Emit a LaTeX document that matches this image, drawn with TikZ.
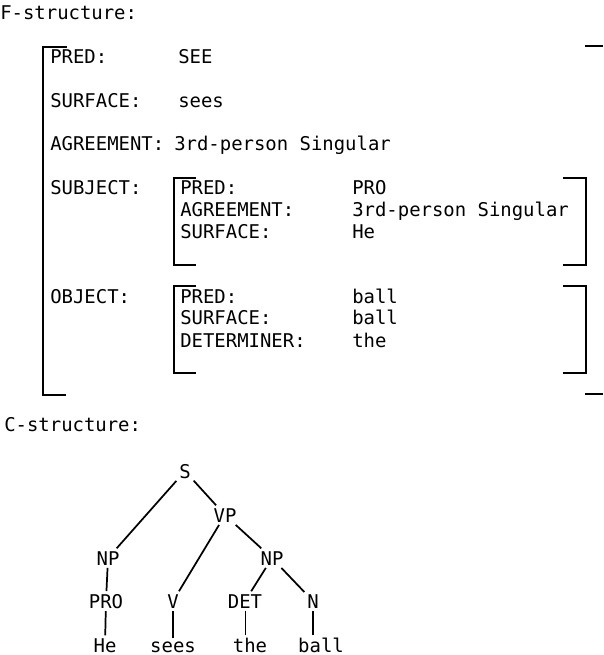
\documentclass[tikz,border=0pt]{standalone}
\usepackage{fontspec}
\setmonofont{DejaVu Sans Mono}
\usetikzlibrary{positioning}
\newcommand{\Fsfont}{\ttfamily\fontsize{14.2pt}{17pt}\selectfont}

\begin{document}
\begin{tikzpicture}[x=0.75pt, y=-0.75pt, font=\Fsfont,
    lab/.style={anchor=base west, inner sep=0pt},
    cat/.style={anchor=base, inner sep=2pt},
    brk/.style={line width=1.4pt},
    edge/.style={line width=1.3pt}]
\useasboundingbox (0,0) rectangle (603,655);

            \draw(0,20) node[lab] (ftitle) {F-structure:};

            % outer f-structure
            \draw(50,64) node[lab] (pred) {PRED:};
            \draw(178,64) node[lab] (predv) {SEE};
            \draw(50,108) node[lab] (surf) {SURFACE:};
            \draw(178,108) node[lab] (surfv) {sees};
            \draw(50,151) node[lab] (agr) {AGREEMENT:};
            \draw(174,151) node[lab] (agrv) {3rd-person Singular};
            \draw(50,195) node[lab] (subj) {SUBJECT:};
            \draw(50,303) node[lab] (obj) {OBJECT:};
            \draw[brk] (67,47) -- (43,47) -- (43,395) -- (66,395);
            \draw[brk] (585,46) -- (603,46);
            \draw[brk] (585,394) -- (603,394);

            % subject
            \draw(180,195) node[lab] (spred) {PRED:};
            \draw(352,195) node[lab] (spredv) {PRO};
            \draw(180,217) node[lab] (sagr) {AGREEMENT:};
            \draw(352,217) node[lab] (sagrv) {3rd-person Singular};
            \draw(180,239) node[lab] (ssurf) {SURFACE:};
            \draw(352,239) node[lab] (ssurfv) {He};
            \draw[brk] (196,178) -- (174,178) -- (174,265) -- (196,265);
            \draw[brk] (563,178) -- (586,178) -- (586,265) -- (563,265);

            % object
            \draw(180,303) node[lab] (opred) {PRED:};
            \draw(352,303) node[lab] (opredv) {ball};
            \draw(180,325) node[lab] (osurf) {SURFACE:};
            \draw(352,325) node[lab] (osurfv) {ball};
            \draw(180,347) node[lab] (odet) {DETERMINER:};
            \draw(352,347) node[lab] (odetv) {the};
            \draw[brk] (196,286) -- (174,286) -- (174,373) -- (196,373);
            \draw[brk] (563,286) -- (586,286) -- (586,373) -- (563,373);

            \draw(4,431) node[lab] (ctitle) {C-structure:};

            % c-structure tree
            \draw(185,478) node[cat] (s) {S};
            \draw(225,522) node[cat] (vp) {VP};
            \draw(108,565) node[cat] (np) {NP};
            \draw(272,565) node[cat] (np2) {NP};
            \draw(106,608) node[cat] (pro) {PRO};
            \draw(173,608) node[cat] (v) {V};
            \draw(245,608) node[cat] (det) {DET};
            \draw(313,608) node[cat] (n) {N};
            \draw(105,652) node[cat] (he) {He};
            \draw(173,652) node[cat] (sees) {sees};
            \draw(250,652) node[cat] (the) {the};
            \draw(321,652) node[cat] (ball) {ball};
            \draw[edge] (s) -- (np);
            \draw[edge] (s) -- (vp);
            \draw[edge] (vp) -- (v);
            \draw[edge] (vp) -- (np2);
            \draw[edge] (np2) -- (det);
            \draw[edge] (np2) -- (n);
            \draw[edge] (np) -- (pro);
            \draw[edge] (pro) -- (he);
            \draw[edge] (v) -- (sees);
            \draw[line width=0.7pt] (det.south) -- (det.south |- the.north);
            \draw[edge] (n.south) -- (n.south |- ball.north);

        \end{tikzpicture}
\end{document}
